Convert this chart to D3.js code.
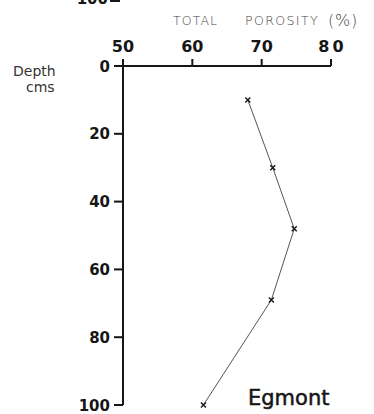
<!DOCTYPE html>
<html>
<head>
<meta charset="utf-8">
<script src="https://cdn.jsdelivr.net/npm/d3@7"></script>
<style>
  html, body { margin: 0; padding: 0; background: #fff; }
  svg { display: block; }
</style>
</head>
<body>
<svg id="chart" width="374" height="414"></svg>
<script>
// Total porosity profile with depth, Egmont soil
const depths = [10, 30, 48, 69, 100];          // cm
const porosity = [68.0, 71.6, 74.7, 71.4, 61.6]; // %
const xTicks = [50, 60, 70, 80];
const yTicks = [0, 20, 40, 60, 80, 100];
const siteName = "Egmont";

const svg = d3.select("#chart");
const x = d3.scaleLinear().domain([50, 80]).range([123, 331]);
const y = d3.scaleLinear().domain([0, 100]).range([66, 405]);

const ink = "#161616";

// Bottom edge of the panel above
svg.append("text")
  .attr("x", 108).attr("y", 4)
  .attr("text-anchor", "end")
  .attr("font-family", "DejaVu Sans").attr("font-weight", "bold")
  .attr("font-size", 15).attr("fill", ink)
  .text("100");
svg.append("line")
  .attr("x1", 110).attr("x2", 120).attr("y1", 1).attr("y2", 1)
  .attr("stroke", ink).attr("stroke-width", 2);

// Top axis (porosity)
const xAxis = svg.append("g");
xAxis.append("line")
  .attr("x1", x(50) - 1).attr("x2", x(80))
  .attr("y1", y(0)).attr("y2", y(0))
  .attr("stroke", ink).attr("stroke-width", 2);
xAxis.selectAll(".xt").data(xTicks).join("line")
  .attr("x1", d => x(d)).attr("x2", d => x(d))
  .attr("y1", y(0) - 7).attr("y2", y(0))
  .attr("stroke", ink).attr("stroke-width", 2);
xAxis.selectAll(".xl").data(xTicks).join("text")
  .attr("x", d => x(d) + (d === 80 ? 1.5 : 0)).attr("y", 52)
  .attr("text-anchor", "middle")
  .attr("font-family", "DejaVu Sans").attr("font-weight", "bold")
  .attr("font-size", 16).attr("fill", ink)
  .attr("letter-spacing", d => d === 80 ? 3 : 0)
  .text(d => d);

// Left axis (depth)
const yAxis = svg.append("g");
yAxis.append("line")
  .attr("x1", x(50)).attr("x2", x(50))
  .attr("y1", y(0) - 7).attr("y2", y(100))
  .attr("stroke", ink).attr("stroke-width", 2);
yAxis.selectAll(".yt").data(yTicks).join("line")
  .attr("x1", x(50) - 9).attr("x2", x(50))
  .attr("y1", d => y(d)).attr("y2", d => y(d))
  .attr("stroke", ink).attr("stroke-width", 2);
yAxis.selectAll(".yl").data(yTicks).join("text")
  .attr("x", 110).attr("y", d => y(d) + 5.5)
  .attr("text-anchor", "end")
  .attr("font-family", "DejaVu Sans").attr("font-weight", "bold")
  .attr("font-size", 15).attr("fill", ink)
  .text(d => d);

// Axis titles
const titleFont = { family: "DejaVu Sans", weight: 200, fill: "#444" };
svg.append("text")
  .attr("x", 173).attr("y", 25)
  .attr("font-family", titleFont.family).attr("font-weight", titleFont.weight)
  .attr("font-size", 12.5).attr("fill", titleFont.fill)
  .attr("letter-spacing", 1.1)
  .text("TOTAL");
svg.append("text")
  .attr("x", 245).attr("y", 25)
  .attr("font-family", titleFont.family).attr("font-weight", titleFont.weight)
  .attr("font-size", 12.5).attr("fill", titleFont.fill)
  .attr("letter-spacing", 1.4)
  .text("POROSITY");
svg.append("text")
  .attr("x", 328).attr("y", 26)
  .attr("font-family", titleFont.family).attr("font-weight", titleFont.weight)
  .attr("font-size", 16).attr("fill", titleFont.fill)
  .attr("letter-spacing", 0.8)
  .text("(%)");

svg.append("text")
  .attr("x", 13).attr("y", 76)
  .attr("font-family", "DejaVu Sans")
  .attr("font-size", 14).attr("fill", "#333")
  .text("Depth");
svg.append("text")
  .attr("x", 26).attr("y", 92)
  .attr("font-family", "DejaVu Sans")
  .attr("font-size", 14).attr("fill", "#333")
  .text("cms");

// Profile line
const pts = depths.map((d, i) => [porosity[i], d]);
svg.append("path")
  .datum(pts)
  .attr("d", d3.line().x(d => x(d[0])).y(d => y(d[1])))
  .attr("fill", "none")
  .attr("stroke", "#555").attr("stroke-width", 1);

// Cross markers
svg.selectAll(".mk").data(pts).join("path")
  .attr("transform", d => `translate(${x(d[0])},${y(d[1])})`)
  .attr("d", d3.symbol().type(d3.symbolX).size(18))
  .attr("fill", "none")
  .attr("stroke", ink).attr("stroke-width", 1.4);

// Site label
svg.append("text")
  .attr("x", 248).attr("y", 405)
  .attr("font-family", "DejaVu Sans")
  .attr("font-size", 21).attr("fill", ink)
  .attr("stroke", ink).attr("stroke-width", 0.5)
  .text(siteName);
</script>
</body>
</html>
